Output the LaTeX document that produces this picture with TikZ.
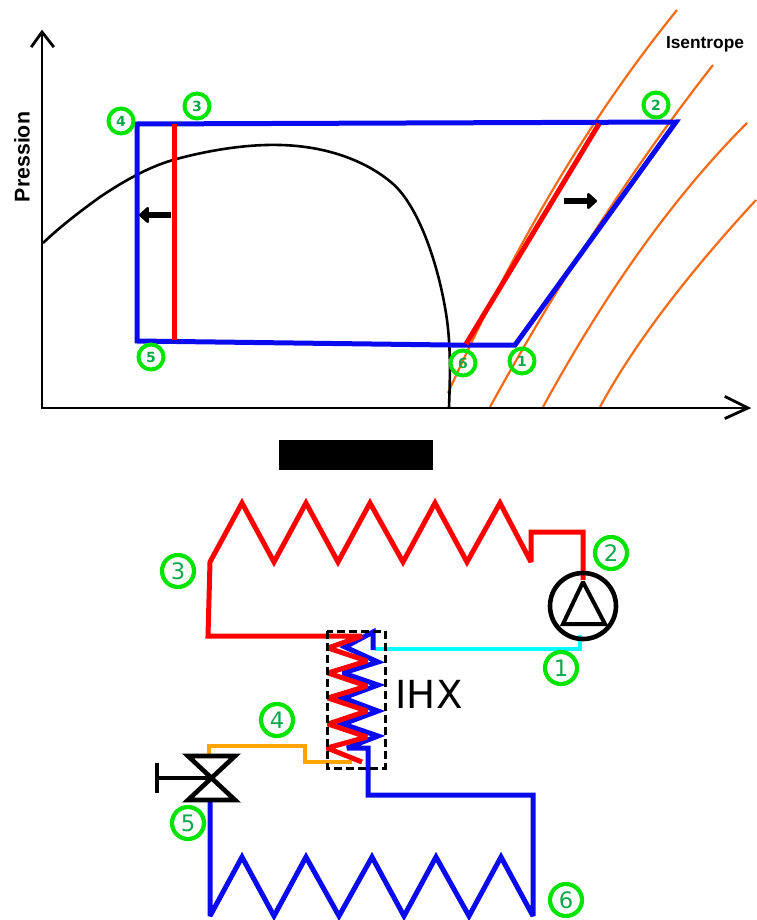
\documentclass[tikz,border=0pt]{standalone}
\usepackage{fontspec}
\setmainfont{DejaVu Sans}
\newfontfamily\labelfont{Liberation Sans}
\usetikzlibrary{arrows.meta}
\definecolor{isoorange}{HTML}{F56A14}
\definecolor{ringgreen}{HTML}{00E400}
\definecolor{numgreen}{HTML}{0DA84A}
\definecolor{loopblue}{HTML}{0A0AEE}
\definecolor{loopred}{HTML}{FF0000}
\definecolor{pipecyan}{HTML}{00FFFF}
\definecolor{pipeorange}{HTML}{FFA500}
\tikzset{
  pxw/.style={line width=#1*0.75pt},
  axisline/.style={pxw=2.8,black,line cap=rect},
  dome/.style={pxw=2.6,black},
  isentrope/.style={pxw=2.2,isoorange},
  bluepipe/.style={pxw=5,loopblue,line join=miter,miter limit=3},
  redpipe/.style={pxw=5,loopred,line join=miter,miter limit=3},
  fatarrow/.style={pxw=5.5,black,-{Triangle[length=8pt,width=14pt,round]}},
  smallnum/.style={circle,draw=ringgreen,pxw=4,minimum size=25*0.75pt,inner sep=0pt,text=numgreen,font=\bfseries\fontsize{10.5}{11}\selectfont},
  bignum/.style={circle,draw=ringgreen,pxw=4.2,minimum size=32*0.75pt,inner sep=0pt,text=numgreen,font=\fontsize{17}{17}\selectfont},
}
\begin{document}
\begin{tikzpicture}[x=0.75pt,y=-0.75pt]
\useasboundingbox (0,0) rectangle (756,920);
% --- P-h diagram ---
\draw[isentrope] (448,393) .. controls (510,256) and (583,126) .. (677,10);
\draw[isentrope] (490,407) .. controls (562,276) and (637,162) .. (713,65);
\draw[isentrope] (543,407) .. controls (608,288) and (676,194) .. (747,123);
\draw[isentrope] (600,407) .. controls (633,346) and (685,277) .. (756,200);
\draw[dome] (43,243) .. controls (62,225) and (82,210) .. (100,197) .. controls (118,185) and (145,168) .. (173,160) .. controls (205,151) and (245,144) .. (280,145) .. controls (325,146) and (365,160) .. (392,183) .. controls (420,207) and (440,270) .. (447,320) .. controls (451,350) and (450,380) .. (449,407);
\coordinate (p4) at (137,124); \coordinate (p2) at (676,122); \coordinate (p1) at (515,345);
\coordinate (p6) at (450,345); \coordinate (p5) at (137,341);
\coordinate (r3t) at (174,124); \coordinate (r3b) at (174,340);
\coordinate (r6) at (466,344); \coordinate (r2) at (599,124);
\draw[bluepipe] (p4) -- (p2) -- (p1) -- (p6) -- (p5) -- cycle;
\draw[redpipe] (r3t) -- (r3b);
\draw[redpipe] (r6) -- (r2);
\coordinate (ao) at (42,32); \coordinate (oo) at (42,408); \coordinate (ax) at (748,408);
\draw[axisline] (ao) -- (oo) -- (ax);
\draw[axisline,line join=miter] (32,46) -- (ao) -- (53,46);
\draw[axisline] (726,397) -- (ax) -- (726,418);
\coordinate (la) at (171,215); \coordinate (lb) at (139,215);
\coordinate (ra) at (564,201); \coordinate (rb) at (597,201);
\draw[fatarrow] (la) -- (lb);
\draw[fatarrow] (ra) -- (rb);
\node[rotate=90,font=\labelfont\bfseries\fontsize{16}{16}\selectfont] (pression) at (22,157) {Pression};
\node[font=\labelfont\bfseries\fontsize{13}{13}\selectfont] (isen) at (705,44) {Isentrope};
\node[smallnum] (s4) at (121,121) {4};
\node[smallnum] (s3) at (197,106) {3};
\node[smallnum] (s2) at (656,105) {2};
\node[smallnum] (s5) at (151,357) {5};
\node[smallnum] (s6) at (463,363) {6};
\node[smallnum] (s1) at (522,361) {1};
% --- redaction bar ---
\fill[black] (279,440) rectangle (433,470);
% --- circuit ---
\draw[pipecyan,pxw=4.6] (375,649) -- (580,649) -- (580,635);
\draw[pipeorange,pxw=4.6] (209,757) -- (209,746) -- (305,746) -- (305,762) -- (352,762);
\draw[bluepipe] (210,802) -- (210,916) -- (242,857) -- (274,916) -- (306,857) -- (339,916) -- (372,857) -- (404,916) -- (436,857) -- (469,916) -- (501,857) -- (533,916) -- (533,795) -- (368,795) -- (368,748) -- (347,748) -- (378,736) -- (343,724) -- (378,711) -- (343,698) -- (378,685) -- (343,673) -- (378,662) -- (345,647) -- (373,632) -- (373,650);
\draw[redpipe] (583,580) -- (583,532) -- (531,532) -- (531,562) -- (500,503) -- (467,562) -- (435,503) -- (403,562) -- (370,503) -- (338,562) -- (306,503) -- (274,562) -- (242,503) -- (210,562) -- (208,636) -- (362,636) -- (328,648) -- (367,661) -- (328,673) -- (367,686) -- (328,698) -- (367,711) -- (328,724) -- (367,737) -- (327,748) -- (362,762);
\draw[black,pxw=3,dash pattern=on 6pt off 3pt] (327,631) rectangle (385,768);
\node[font=\fontsize{29}{29}\selectfont] (ihx) at (429,694) {IHX};
% pump
\node[circle,draw=black,pxw=4.6,minimum size=66*0.75pt,inner sep=0pt] (pump) at (583,606) {};
\coordinate (pa) at (583,582); \coordinate (pb) at (563,624); \coordinate (pc) at (605,624);
\draw[black,pxw=4,line join=miter,miter limit=2] (pa) -- (pb) -- (pc) -- cycle;
% valve
\coordinate (vc) at (211,778);
\draw[black,pxw=4.6,line join=miter] (188,756) -- (235,756) -- (188,800) -- (235,800) -- cycle;
\draw[black,pxw=4.6] (157,778) -- (vc);
\draw[black,pxw=4.6] (157,763) -- (157,793);
\node[bignum] (b1) at (561,668) {1};
\node[bignum] (b2) at (611,553) {2};
\node[bignum] (b3) at (178,571) {3};
\node[bignum] (b4) at (277,720) {4};
\node[bignum] (b5) at (188,823) {5};
\node[bignum] (b6) at (566,900) {6};
\end{tikzpicture}
\end{document}
